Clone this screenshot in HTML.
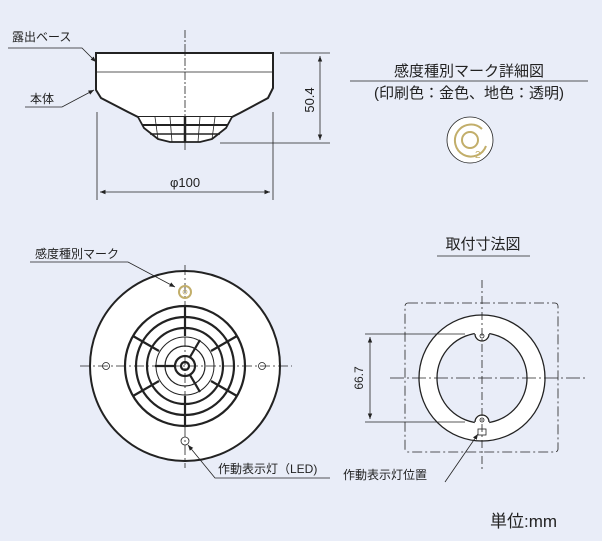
<!DOCTYPE html>
<html><head><meta charset="utf-8"><style>
body{margin:0;background:#e9edf8;}
svg{display:block;}
text{font-family:"Liberation Sans","Noto Sans CJK JP",sans-serif;fill:#222;}
</style></head><body>
<svg width="602" height="541" viewBox="0 0 602 541" xmlns="http://www.w3.org/2000/svg">
<rect width="602" height="541" fill="#e9edf8"/>
<defs>
<marker id="a" viewBox="0 0 10 10" refX="10" refY="5" markerWidth="7" markerHeight="7" orient="auto-start-reverse"><path d="M0,1 L10,5 L0,9 z" fill="#222"/></marker>
</defs>
<g stroke="#222" fill="none" stroke-width="0.8">
<!-- side view -->
<path d="M96,53 H273 V88 L268,98 L240,113 L232,117 H138 L130,113 L101,98 L96,90 Z" fill="#fff" stroke-width="2"/>
<line x1="96" y1="72" x2="273" y2="72"/>
<path d="M138,117 L144,128 L158,139 L170,142 H200 L212,139 L226,128 L232,117" fill="#fff" stroke-width="1.8"/>
<line x1="142" y1="125" x2="228" y2="125" stroke-width="2"/>
<line x1="150" y1="134" x2="220" y2="134" stroke-width="1.5"/>
<line x1="155" y1="117" x2="158" y2="139" /><line x1="170" y1="117" x2="172" y2="142"/><line x1="200" y1="117" x2="198" y2="142"/><line x1="215" y1="117" x2="212" y2="139"/>
<line x1="185" y1="117" x2="185" y2="142" stroke-width="2.5"/>
<line x1="185" y1="30" x2="185" y2="150" stroke-dasharray="8,2,2,2"/>
<line x1="280" y1="53" x2="330" y2="53"/><line x1="220" y1="143" x2="330" y2="143"/>
<line x1="320" y1="56" x2="320" y2="140" marker-start="url(#a)" marker-end="url(#a)"/>
<line x1="97" y1="112" x2="97" y2="200"/><line x1="273" y1="112" x2="273" y2="200"/>
<line x1="100" y1="192" x2="270" y2="192" marker-start="url(#a)" marker-end="url(#a)"/>
<polyline points="8,48 82,48 96,62" marker-end="url(#a)"/>
<polyline points="25,107 62,107 94,90" marker-end="url(#a)"/>
<!-- detail mark -->
<line x1="350" y1="81" x2="588" y2="81"/>
<circle cx="470" cy="140" r="23" fill="#fff"/>
<path d="M482,129 A16,16 0 1 0 486,146" stroke="#c2ae6a" stroke-width="2"/>
<circle cx="470" cy="140" r="8" stroke="#c2ae6a" stroke-width="2"/>
<!-- bottom view -->
<circle cx="185" cy="366" r="95" fill="#fff" stroke-width="2"/>
<line x1="80" y1="366" x2="292" y2="366" stroke-dasharray="10,3,2,3"/>
<line x1="185" y1="265" x2="185" y2="468" stroke-dasharray="10,3,2,3"/>
<circle cx="106" cy="366" r="3.5"/><circle cx="262" cy="366" r="3.5"/>
<circle cx="185" cy="441" r="4"/>
<circle cx="185" cy="292" r="6" stroke="#c2ae6a" stroke-width="2"/><circle cx="185" cy="292" r="2" stroke="#c2ae6a"/>
<g stroke-width="2.2">
<circle cx="185" cy="366" r="60"/>
<circle cx="185" cy="366" r="49"/>
<circle cx="185" cy="366" r="38"/>
<circle cx="185" cy="366" r="20" stroke-width="1.2"/>
<circle cx="185" cy="366" r="10"/>
<circle cx="185" cy="366" r="4"/>
<line x1="185" y1="306" x2="185" y2="336"/><line x1="185" y1="396" x2="185" y2="426"/>
<line x1="159" y1="351" x2="133" y2="336"/><line x1="211" y1="351" x2="237" y2="336"/>
<line x1="159" y1="381" x2="133" y2="396"/><line x1="211" y1="381" x2="237" y2="396"/>
<line x1="175" y1="366" x2="155" y2="366"/><line x1="190" y1="357" x2="200" y2="340"/><line x1="190" y1="375" x2="200" y2="392"/>
</g>
<circle cx="185" cy="366" r="29" stroke-width="1"/>
<polyline points="30,262 128,262 175,287" marker-end="url(#a)"/>
<polyline points="330,478 215,478 188,445" marker-end="url(#a)"/>
<!-- mounting -->
<line x1="437" y1="256" x2="530" y2="256"/>
<rect x="405" y="303" width="153" height="149" rx="3" stroke-dasharray="10,3,2,3"/>
<path fill-rule="evenodd" d="M545,378 A63,63 0 1 1 419,378 A63,63 0 1 1 545,378 Z M527,378 A45,45 0 1 0 437,378 A45,45 0 1 0 527,378 Z" fill="#fff" stroke-width="1.3"/>
<circle cx="482" cy="335" r="7" fill="#fff" stroke="#fff"/><path d="M475,334 A7,7 0 0 0 489,334" stroke-width="1.3"/>
<circle cx="482" cy="421" r="7" fill="#fff" stroke="#fff"/><path d="M475,422 A7,7 0 0 1 489,422" stroke-width="1.3"/>
<circle cx="482" cy="336" r="2"/><circle cx="482" cy="420" r="2"/>
<rect x="478" y="429" width="8" height="6"/>
<line x1="482" y1="280" x2="482" y2="470" stroke-dasharray="8,3,2,3"/>
<line x1="390" y1="378" x2="585" y2="378" stroke-dasharray="14,3,2,3"/>
<line x1="365" y1="334" x2="465" y2="334"/><line x1="365" y1="422" x2="465" y2="422"/>
<line x1="370" y1="337" x2="370" y2="419" marker-start="url(#a)" marker-end="url(#a)"/>
<polyline points="445,482 478,434" marker-end="url(#a)"/>
</g>
<text x="12" y="41" font-size="12">露出ベース</text>
<text x="30" y="103" font-size="12">本体</text>
<text transform="translate(314,100) rotate(-90)" font-size="13" text-anchor="middle">50.4</text>
<text x="185" y="187" font-size="13" text-anchor="middle">φ100</text>
<text x="469" y="76" font-size="15" text-anchor="middle">感度種別マーク詳細図</text>
<text x="469" y="98" font-size="15" text-anchor="middle">(印刷色：金色、地色：透明)</text>
<text x="475" y="158" font-size="10" fill="#c2ae6a" style="fill:#c2ae6a">2</text>
<text x="35" y="258" font-size="12">感度種別マーク</text>
<text x="218" y="473" font-size="12">作動表示灯（LED)</text>
<text x="483" y="249" font-size="15" text-anchor="middle">取付寸法図</text>
<text transform="translate(363,378) rotate(-90)" font-size="12" text-anchor="middle">66.7</text>
<text x="343" y="479" font-size="12">作動表示灯位置</text>
<text x="490" y="527" font-size="17">単位:mm</text>
</svg>
</body></html>
